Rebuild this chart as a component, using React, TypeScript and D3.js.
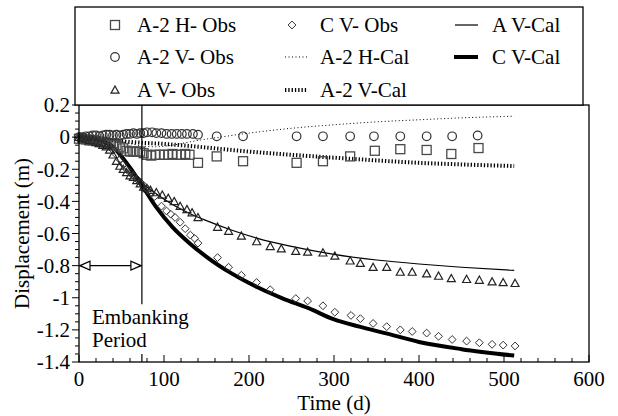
import React from 'react';
import * as d3 from 'd3';

type Pt = [number, number];

// observed points [day, displacement m]
const a2HObs: Pt[] = [
  [0, -0.01], [4, -0.01], [8, -0.015], [12, -0.02], [16, -0.02], [20, -0.025], [24, -0.03], [28, -0.03],
  [32, -0.035], [36, -0.04], [40, -0.045], [44, -0.05], [48, -0.06], [52, -0.07], [56, -0.085], [60, -0.09],
  [64, -0.09], [68, -0.09], [72, -0.09], [76, -0.1], [80, -0.11], [85, -0.115], [90, -0.11], [95, -0.11],
  [100, -0.11], [105, -0.11], [110, -0.105], [115, -0.11], [120, -0.11], [125, -0.105], [130, -0.11],
  [140, -0.16], [162, -0.12], [193, -0.15], [256, -0.16], [287, -0.15], [319, -0.12], [348, -0.085],
  [378, -0.075], [409, -0.08], [438, -0.105], [470, -0.068],
];
const a2VObs: Pt[] = [
  [0, 0], [4, 0], [8, 0.005], [12, 0.005], [16, 0.01], [20, 0.01], [24, 0.005], [28, 0.01], [32, 0.015],
  [36, 0.015], [40, 0.01], [44, 0.015], [48, 0.01], [52, 0.015], [56, 0.02], [60, 0.02], [64, 0.025],
  [68, 0.02], [72, 0.025], [76, 0.025], [80, 0.03], [86, 0.03], [91, 0.025], [97, 0.025], [103, 0.02],
  [109, 0.02], [115, 0.02], [121, 0.02], [127, 0.02], [134, 0.02], [140, 0.015], [162, 0.005], [193, 0.005],
  [256, 0.005], [287, 0.005], [319, 0.005], [347, 0.005], [378, 0.005], [409, 0.005], [439, 0.005], [469, 0.01],
];
const aVObs: Pt[] = [
  [0, 0], [4, -0.01], [8, -0.01], [12, -0.02], [16, -0.02], [20, -0.03], [24, -0.04], [28, -0.05], [32, -0.06],
  [36, -0.08], [40, -0.11], [44, -0.15], [48, -0.18], [52, -0.2], [56, -0.22], [60, -0.24], [64, -0.25],
  [68, -0.27], [72, -0.29], [76, -0.31], [80, -0.32], [84, -0.33], [91, -0.345], [98, -0.36], [105, -0.38],
  [112, -0.4], [119, -0.43], [127, -0.45], [133, -0.47], [140, -0.5], [163, -0.56], [176, -0.585],
  [191, -0.615], [209, -0.65], [225, -0.68], [238, -0.695], [255, -0.71], [269, -0.715], [287, -0.72],
  [301, -0.74], [319, -0.77], [331, -0.785], [346, -0.81], [362, -0.81], [378, -0.84], [392, -0.84],
  [409, -0.85], [423, -0.865], [438, -0.88], [456, -0.885], [471, -0.89], [486, -0.9], [499, -0.905], [513, -0.91],
];
const cVObs: Pt[] = [
  [0, 0], [4, -0.01], [8, -0.01], [12, -0.015], [16, -0.02], [20, -0.02], [24, -0.03], [28, -0.035],
  [32, -0.045], [36, -0.06], [40, -0.08], [44, -0.11], [48, -0.14], [52, -0.17], [56, -0.2], [60, -0.22],
  [64, -0.24], [68, -0.26], [72, -0.28], [76, -0.3], [80, -0.32], [85, -0.35], [89, -0.37], [97, -0.43],
  [103, -0.46], [108, -0.48], [113, -0.5], [119, -0.53], [125, -0.57], [131, -0.61], [136, -0.63], [140, -0.66],
  [163, -0.75], [176, -0.81], [191, -0.86], [209, -0.905], [225, -0.95], [255, -1.005], [269, -1.02],
  [287, -1.05], [301, -1.09], [320, -1.11], [331, -1.13], [346, -1.16], [362, -1.18], [378, -1.2],
  [392, -1.21], [409, -1.22], [423, -1.24], [439, -1.26], [456, -1.27], [471, -1.28], [486, -1.29],
  [499, -1.295], [513, -1.3],
];

// calculated curves
const aVCal: Pt[] = [
  [0, 0], [10, -0.005], [20, -0.015], [30, -0.03], [40, -0.06], [50, -0.11], [60, -0.18], [74, -0.28],
  [90, -0.35], [110, -0.42], [130, -0.475], [150, -0.52], [180, -0.58], [210, -0.63], [250, -0.68],
  [300, -0.73], [350, -0.765], [400, -0.79], [450, -0.81], [512, -0.83],
];
const cVCal: Pt[] = [
  [0, 0], [10, -0.005], [20, -0.015], [30, -0.03], [40, -0.06], [50, -0.12], [60, -0.19], [74, -0.3],
  [90, -0.43], [110, -0.56], [130, -0.66], [150, -0.745], [180, -0.85], [210, -0.935], [240, -1.005],
  [270, -1.065], [300, -1.135], [330, -1.18], [360, -1.22], [400, -1.275], [450, -1.32], [512, -1.36],
];
const a2HCal: Pt[] = [
  [0, 0], [20, -0.01], [40, -0.02], [60, -0.04], [74, -0.055], [90, -0.06], [110, -0.05], [130, -0.03],
  [150, -0.012], [170, 0.003], [200, 0.025], [250, 0.055], [300, 0.077], [350, 0.095], [400, 0.108],
  [450, 0.12], [512, 0.13],
];
const a2VCal: Pt[] = [
  [0, 0], [20, -0.01], [40, -0.02], [60, -0.03], [74, -0.035], [100, -0.042], [130, -0.055], [160, -0.07],
  [200, -0.09], [250, -0.11], [300, -0.128], [350, -0.145], [400, -0.16], [450, -0.17], [512, -0.18],
];

const xTicks = [0, 100, 200, 300, 400, 500, 600];
const yTicks = [0.2, 0, -0.2, -0.4, -0.6, -0.8, -1, -1.2, -1.4];
const embankDay = 74;
const arrowLevel = -0.8;

const FONT = '"Liberation Serif", "Times New Roman", serif';

const W = 618, H = 416;
const m = { l: 79, r: 29, t: 105, b: 54 };

function Marker({ kind, x, y }: { kind: string; x: number; y: number }) {
  if (kind === 'sq') return <rect x={x - 4.5} y={y - 4.5} width={9} height={9} fill="none" stroke="#4a4a4a" strokeWidth={1.3} />;
  if (kind === 'ci') return <circle cx={x} cy={y} r={4.3} fill="none" stroke="#333" strokeWidth={1.2} />;
  if (kind === 'tr') return <path d={`M${x},${y - 4}L${x + 4},${y + 3.2}L${x - 4},${y + 3.2}Z`} fill="none" stroke="#222" strokeWidth={1.2} />;
  return <path d={`M${x},${y - 3.9}L${x + 3.9},${y}L${x},${y + 3.9}L${x - 3.9},${y}Z`} fill="none" stroke="#333" strokeWidth={1} />;
}

export default function App() {
  const x = d3.scaleLinear().domain([0, 600]).range([m.l, W - m.r]);
  const y = d3.scaleLinear().domain([-1.4, 0.2]).range([H - m.b, m.t]);
  const line = d3.line<Pt>().x(d => x(d[0])).y(d => y(d[1])).curve(d3.curveMonotoneX);

  const xMinor = d3.range(0, 601, 20).filter(d => d % 100 !== 0);
  // minor y ticks every 0.05 between the labelled ones
  const yMinor = d3.range(0, 33).filter(i => i % 4 !== 0).map(i => -1.4 + i * 0.05);

  const series: { kind: string; data: Pt[] }[] = [
    { kind: 'sq', data: a2HObs },
    { kind: 'ci', data: a2VObs },
    { kind: 'tr', data: aVObs },
    { kind: 'di', data: cVObs },
  ];

  const ex = x(embankDay);
  const ay = y(arrowLevel);
  const lg = { x0: 75, y0: 7, x1: 583, y1: y(0.2) };
  const rows = [32, 64, 97];

  return (
    <svg width={W} height={H} style={{ position: 'absolute', left: 0, top: 0, background: '#fff' }} fontFamily={FONT} fontSize={21}>
      {/* calculated curves */}
      <path d={line(a2HCal) || ''} fill="none" stroke="#000" strokeWidth={1} strokeDasharray="1 2.5" />
      <path d={line(a2VCal) || ''} fill="none" stroke="#000" strokeWidth={4} strokeDasharray="1.3 2" />
      <path d={line(aVCal) || ''} fill="none" stroke="#000" strokeWidth={1.2} />
      <path d={line(cVCal) || ''} fill="none" stroke="#000" strokeWidth={4} />

      {/* observations */}
      {series.map(s => (
        <g key={s.kind}>
          {s.data.map((d, i) => <Marker key={i} kind={s.kind} x={x(d[0])} y={y(d[1])} />)}
        </g>
      ))}

      {/* embanking period */}
      <line x1={ex} x2={ex} y1={y(0.2)} y2={y(-1.04)} stroke="#000" strokeWidth={1.2} />
      <line x1={ex} x2={ex} y1={y(-1.35)} y2={y(-1.4)} stroke="#000" strokeWidth={1.2} />
      <line x1={x(0)} x2={ex} y1={ay} y2={ay} stroke="#000" strokeWidth={1.2} />
      <path d={`M${x(0) + 1},${ay}L${x(0) + 11},${ay - 4.5}L${x(0) + 11},${ay + 4.5}Z`} fill="#fff" stroke="#000" strokeWidth={1.2} />
      <path d={`M${ex - 1},${ay}L${ex - 11},${ay - 4.5}L${ex - 11},${ay + 4.5}Z`} fill="#fff" stroke="#000" strokeWidth={1.2} />
      <text x={92} y={324}>Embanking</text>
      <text x={92} y={347}>Period</text>

      {/* frame */}
      <rect x={m.l} y={m.t} width={W - m.l - m.r} height={H - m.t - m.b} fill="none" stroke="#000" strokeWidth={1.3} />

      {/* x axis ticks (inward) */}
      {xTicks.map(t => (
        <g key={t}>
          <line x1={x(t)} x2={x(t)} y1={y(-1.4)} y2={y(-1.4) - 7} stroke="#000" />
          <text x={x(t)} y={386} textAnchor="middle">{t}</text>
        </g>
      ))}
      {xMinor.map(t => <line key={t} x1={x(t)} x2={x(t)} y1={y(-1.4)} y2={y(-1.4) - 4} stroke="#000" />)}
      <text x={(m.l + W - m.r) / 2} y={410} textAnchor="middle">Time (d)</text>

      {/* y axis ticks (outward) */}
      {yTicks.map(t => (
        <g key={t}>
          <line x1={m.l} x2={m.l - 7} y1={y(t)} y2={y(t)} stroke="#000" />
          <text x={70} y={y(t)} dy="0.35em" textAnchor="end">{t}</text>
        </g>
      ))}
      {yMinor.map(t => <line key={t.toFixed(2)} x1={m.l} x2={m.l - 4} y1={y(t)} y2={y(t)} stroke="#000" />)}
      <text transform={`translate(29,${(m.t + H - m.b) / 2}) rotate(-90)`} textAnchor="middle">Displacement (m)</text>

      {/* legend */}
      <rect x={lg.x0} y={lg.y0} width={lg.x1 - lg.x0} height={lg.y1 - lg.y0} fill="#fff" stroke="#000" strokeWidth={1.3} />
      <Marker kind="sq" x={115} y={rows[0] - 7} />
      <text x={137} y={rows[0]}>A-2 H- Obs</text>
      <Marker kind="ci" x={115} y={rows[1] - 7} />
      <text x={137} y={rows[1]}>A-2 V- Obs</text>
      <Marker kind="tr" x={115} y={rows[2] - 7} />
      <text x={137} y={rows[2]}>A V- Obs</text>
      <Marker kind="di" x={292} y={rows[0] - 7} />
      <text x={320} y={rows[0]}>C V- Obs</text>
      <line x1={285} x2={307} y1={rows[1] - 7} y2={rows[1] - 7} stroke="#000" strokeWidth={1} strokeDasharray="1 2.5" />
      <text x={320} y={rows[1]}>A-2 H-Cal</text>
      <line x1={285} x2={308} y1={rows[2] - 7} y2={rows[2] - 7} stroke="#000" strokeWidth={4} strokeDasharray="1.3 2" />
      <text x={320} y={rows[2]}>A-2 V-Cal</text>
      <line x1={455} x2={478} y1={rows[0] - 7} y2={rows[0] - 7} stroke="#000" strokeWidth={1.2} />
      <text x={492} y={rows[0]}>A V-Cal</text>
      <line x1={454} x2={478} y1={rows[1] - 7} y2={rows[1] - 7} stroke="#000" strokeWidth={4} />
      <text x={492} y={rows[1]}>C V-Cal</text>
    </svg>
  );
}
